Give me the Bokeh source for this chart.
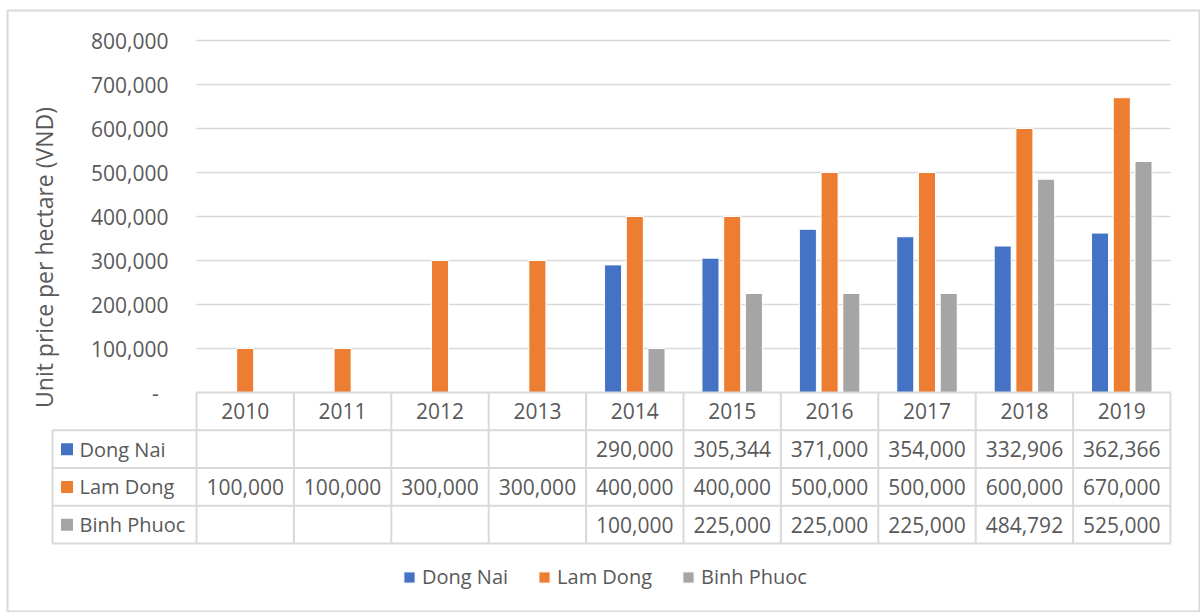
import math
from bokeh.plotting import figure
from bokeh.models import Range1d, ColumnDataSource
from bokeh.core.properties import value
from bokeh.embed import file_html
from bokeh.resources import INLINE

# ---------------- data ----------------
years = ["2010", "2011", "2012", "2013", "2014", "2015", "2016", "2017", "2018", "2019"]
dong_nai = [None, None, None, None, 290000, 305344, 371000, 354000, 332906, 362366]
lam_dong = [100000, 100000, 300000, 300000, 400000, 400000, 500000, 500000, 600000, 670000]
binh_phuoc = [None, None, None, None, 100000, 225000, 225000, 225000, 484792, 525000]
series_names = ["Dong Nai", "Lam Dong", "Binh Phuoc"]
y_ticks = [0, 100000, 200000, 300000, 400000, 500000, 600000, 700000, 800000]
y_title = "Unit price per hectare (VND)"

# ---------------- layout / style ----------------
W, H = 1200, 612
FRAME_L, FRAME_T = 7, 10
X0_PX = 196.0          # left edge of plot area
PX_PER_COL = 97.4      # width of one category
Y0_PX = 392.0          # baseline (value 0)
PX_PER_VAL = 352.0 / 800000.0
ROW_PX = 37.75         # table row height
COLORS = ["#4472C4", "#ED7D31", "#A5A5A5"]
TXT = "#595959"
LINE = "#D9D9D9"
FONT_NAME = "Open Sans"
FONT = value(FONT_NAME)
FS = value("21px")
BAR_W = 0.175
BAR_OFF = 0.223


def px_x(px):
    return (px - X0_PX) / PX_PER_COL


def px_y(py):
    return (Y0_PX - py) / PX_PER_VAL


p = figure(
    width=W, height=H, output_backend="svg", toolbar_location=None,
    x_range=Range1d(px_x(FRAME_L), px_x(W)),
    y_range=Range1d(px_y(H), px_y(FRAME_T)),
    x_axis_location=None, y_axis_location=None,
    min_border_left=FRAME_L, min_border_top=FRAME_T,
    min_border_right=0, min_border_bottom=0,
)
p.xgrid.visible = False
p.ygrid.visible = False
p.extra_y_ranges = {"tbl": Range1d((H - Y0_PX) / ROW_PX, -(Y0_PX - FRAME_T) / ROW_PX)}
p.outline_line_color = LINE
p.outline_line_width = 2
p.background_fill_color = "white"
p.border_fill_color = "white"

n = len(years)
centers = [i + 0.5 for i in range(n)]

# gridlines
grid_ticks = [t for t in y_ticks if t > 0]
p.segment(x0=[0] * len(grid_ticks), x1=[n] * len(grid_ticks), y0=grid_ticks, y1=grid_ticks,
          line_color=LINE, line_width=1.5)

# y tick labels
p.text(x=[px_x(168)] * len(grid_ticks), y=grid_ticks, text=[f"{t:,}" for t in grid_ticks],
       text_align="right", text_baseline="middle", text_font=FONT, text_font_size=FS,
       text_color=TXT)
p.text(x=[px_x(155)], y=[y_ticks[0]], text=["-"], text_align="center", text_baseline="middle",
       text_font=FONT, text_font_size=FS, text_color=TXT)

# y title
p.text(x=[px_x(43)], y=[px_y(257)], text=[y_title], angle=math.pi / 2, text_align="center",
       text_baseline="middle", text_font=FONT, text_font_size=value("23px"), text_color=TXT)

# bars
all_series = [dong_nai, lam_dong, binh_phuoc]
for k, (name, vals, col) in enumerate(zip(series_names, all_series, COLORS)):
    xs = [c + (k - 1) * BAR_OFF for c in centers]
    tops = [float("nan") if v is None else v for v in vals]
    src = ColumnDataSource(dict(x=xs, top=tops))
    p.vbar(x="x", top="top", bottom=0, width=BAR_W, source=src, fill_color=col,
           line_color="white", line_width=1, legend_label=name)

# ---------------- data table ----------------
lbl_left = px_x(52)
p.segment(x0=[0], x1=[n], y0=[0], y1=[0], line_color=LINE, line_width=2, y_range_name="tbl")
rows = [1, 2, 3, 4]
p.segment(x0=[lbl_left] * 4, x1=[n] * 4, y0=rows, y1=rows, line_color=LINE, line_width=2,
          y_range_name="tbl")
cols = list(range(n + 1))
p.segment(x0=cols, x1=cols, y0=[0] * len(cols), y1=[4] * len(cols), line_color=LINE,
          line_width=2, y_range_name="tbl")
p.segment(x0=[lbl_left], x1=[lbl_left], y0=[1], y1=[4], line_color=LINE, line_width=2,
          y_range_name="tbl")

p.text(x=centers, y=[0.5] * n, text=years, text_align="center", text_baseline="middle",
       text_font=FONT, text_font_size=FS, text_color=TXT, y_range_name="tbl")
for k, vals in enumerate(all_series):
    xs = [c for c, v in zip(centers, vals) if v is not None]
    txt = [f"{v:,}" for v in vals if v is not None]
    p.text(x=xs, y=[k + 1.5] * len(xs), text=txt, text_align="center", text_baseline="middle",
           text_font=FONT, text_font_size=FS, text_color=TXT, y_range_name="tbl")
row_y = [1.5, 2.5, 3.5]
p.rect(x=[px_x(66.5)] * 3, y=row_y, width=12, height=12, width_units="screen",
       height_units="screen", fill_color=COLORS, line_color=None, y_range_name="tbl")
p.text(x=[px_x(79)] * 3, y=row_y, text=series_names, text_align="left", text_baseline="middle",
       text_font=FONT, text_font_size=value("20px"), text_color=TXT, y_range_name="tbl")

# legend
lg = p.legend[0]
lg.orientation = "horizontal"
lg.location = (395, 22)
lg.label_text_font = FONT_NAME
lg.label_text_font_size = "20px"
lg.label_text_color = TXT
lg.glyph_width = 14
lg.glyph_height = 14
lg.label_standoff = 6
lg.spacing = 29
lg.padding = 0
lg.margin = 0
lg.border_line_color = None
lg.background_fill_alpha = 0

open("out.html", "w").write(file_html(p, INLINE))
